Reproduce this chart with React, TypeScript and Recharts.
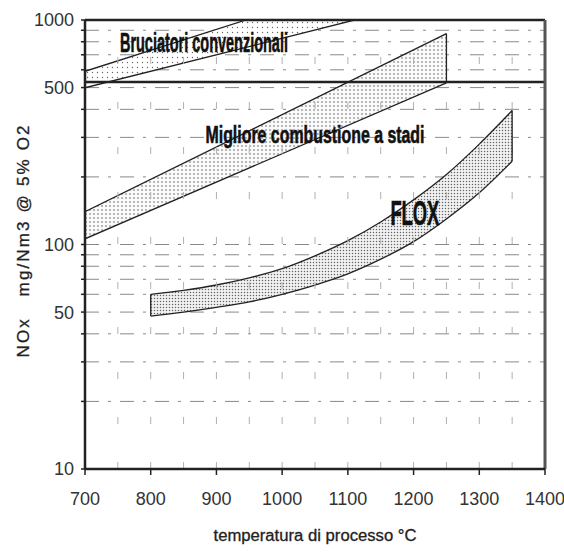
import React from 'react';
import {
  ComposedChart,
  Area,
  XAxis,
  YAxis,
  CartesianGrid,
  ReferenceLine,
  ReferenceDot,
  Label,
} from 'recharts';

// ---- Data -------------------------------------------------------------
const xTicks = [700, 800, 900, 1000, 1100, 1200, 1300, 1400];
const yTicks = [10, 20, 30, 40, 50, 60, 70, 80, 90, 100, 200, 300, 400, 500, 600, 700, 800, 900, 1000];
const yTickLabels = [10, 50, 100, 500, 1000];
const gridX = [750, 800, 850, 900, 950, 1000, 1050, 1100, 1150, 1200, 1250, 1300, 1350];

// Bruciatori convenzionali
const brucT = [700, 945, 1110];
const brucLo = [499, 755, 1000];
const brucHi = [591, 1000, 1000];

// Migliore combustione a stadi
const migT = [700, 1250];
const migLo = [106, 525];
const migHi = [140, 870];

// FLOX
const floxT = [800, 850, 900, 950, 1000, 1050, 1100, 1150, 1200, 1250, 1300, 1350];
const floxLo = [48, 50, 52.5, 55.5, 60, 66, 74, 86, 103, 130, 170, 235];
const floxHi = [60, 62.5, 66, 71, 78, 89, 104, 126, 158, 205, 280, 395];

const boxFloor = 530;

const bandNames = ['Bruciatori convenzionali', 'Migliore combustione a stadi', 'FLOX'];
const xTitle = 'temperatura di processo °C';
const yTitle = 'NOx   mg/Nm3 @ 5% O2';

// ---- Build table -------------------------------------------------------
const allT = Array.from(new Set([...brucT, ...migT, ...floxT])).sort((a, b) => a - b);
const pick = (ts: number[], lo: number[], hi: number[], t: number) => {
  const i = ts.indexOf(t);
  return i < 0 ? [null, null] : [lo[i], hi[i]];
};
const data = allT.map((t) => ({
  t,
  b: pick(brucT, brucLo, brucHi, t),
  m: pick(migT, migLo, migHi, t),
  f: pick(floxT, floxLo, floxHi, t),
}));

const narrow = "'Liberation Sans Narrow', 'Arial Narrow', 'Liberation Sans', Arial, sans-serif";

const YTick = (props: any) => {
  const { x, y, payload } = props;
  if (!yTickLabels.includes(payload.value)) return <g />;
  return (
    <text x={x} y={y} dy="0.36em" textAnchor="end" fontSize={18} fontFamily={narrow} fill="#333">
      {payload.value}
    </text>
  );
};

const XTick = (props: any) => {
  const { x, y, payload } = props;
  return (
    <text x={x} y={y} dy="0.71em" textAnchor="middle" fontSize={18} fontFamily={narrow} fill="#333">
      {payload.value}
    </text>
  );
};

const last = (a: number[]) => a[a.length - 1];

export default function App() {
  const labels = [
    { text: bandNames[0], t: 881, v: 790, fs: 28, w: 168 },
    { text: bandNames[1], t: 1050, v: 306, fs: 23, w: 219 },
    { text: bandNames[2], t: 1202, v: 139, fs: 35, w: 49 },
  ];
  return (
    <div style={{ position: 'absolute', left: 0, top: 0, width: 564, height: 552, background: '#fff' }}>
      <ComposedChart
        width={564}
        height={552}
        data={data}
        margin={{ top: 20, right: 19, left: 15, bottom: 43 }}
      >
        <defs>
          <pattern id="dotsB" width="5" height="5" patternUnits="userSpaceOnUse">
            <rect width="5" height="5" fill="#fff" />
            <circle cx="2.5" cy="2.5" r="0.7" fill="#666" />
          </pattern>
          <pattern id="dotsM" width="4" height="4" patternUnits="userSpaceOnUse">
            <rect width="4" height="4" fill="#fafafa" />
            <circle cx="2" cy="2" r="0.75" fill="#555" />
          </pattern>
          <pattern id="dotsF" width="3" height="3" patternUnits="userSpaceOnUse">
            <rect width="3" height="3" fill="#f2f2f2" />
            <circle cx="1.5" cy="1.5" r="0.75" fill="#666" />
          </pattern>
        </defs>
        <CartesianGrid vertical={false} stroke="#8a8a8a" strokeDasharray="14 9 3 9" strokeWidth={1} />
        {gridX.map((gx) => (
          <ReferenceLine key={gx} x={gx} stroke="#b0b0b0" strokeDasharray="7 38" strokeWidth={1} />
        ))}
        <XAxis
          dataKey="t"
          type="number"
          domain={[700, 1400]}
          ticks={xTicks}
          allowDataOverflow
          height={40}
          tickSize={6}
          tickMargin={17}
          tick={<XTick />}
          axisLine={{ stroke: '#222', strokeWidth: 2.5 }}
          tickLine={{ stroke: '#222', strokeWidth: 1.5 }}
        >
          <Label
            content={(p: any) => {
              const vb = p.viewBox || { x: 85, y: 469, width: 460, height: 40 };
              return (
                <text
                  x={vb.x + vb.width / 2}
                  y={vb.y + 72}
                  textAnchor="middle"
                  fontSize={16}
                  fontFamily={narrow}
                  fill="#222"
                  stroke="#222"
                  strokeWidth={0.3}
                  textLength={203}
                  lengthAdjust="spacingAndGlyphs"
                >
                  {xTitle}
                </text>
              );
            }}
          />
        </XAxis>
        <YAxis
          type="number"
          scale="log"
          domain={[10, 1000]}
          ticks={yTicks}
          allowDataOverflow
          width={70}
          tickSize={4}
          tickMargin={7}
          tick={<YTick />}
          interval={0}
          axisLine={{ stroke: '#222', strokeWidth: 2.5 }}
          tickLine={{ stroke: '#222', strokeWidth: 1.5 }}
        >
          <Label
            content={(p: any) => {
              const vb = p.viewBox || { x: 15, y: 20, width: 70, height: 449 };
              const cx = vb.x + 8;
              const cy = vb.y + vb.height / 2 - 3;
              return (
                <text
                  x={cx}
                  y={cy}
                  transform={`rotate(-90 ${cx} ${cy})`}
                  textAnchor="middle"
                  dominantBaseline="central"
                  fontSize={17}
                  fontFamily={narrow}
                  fill="#222"
                  stroke="#222"
                  strokeWidth={0.3}
                  style={{ whiteSpace: 'pre' }}
                  textLength={232}
                  lengthAdjust="spacing"
                >
                  {yTitle}
                </text>
              );
            }}
          />
        </YAxis>

        <Area
          dataKey="b"
          type="linear"
          connectNulls
          stroke="#222"
          strokeWidth={1.3}
          fill="url(#dotsB)"
          fillOpacity={1}
          isAnimationActive={false}
          dot={false}
          activeDot={false}
        />
        <Area
          dataKey="m"
          type="linear"
          connectNulls
          stroke="#222"
          strokeWidth={1.3}
          fill="url(#dotsM)"
          fillOpacity={1}
          isAnimationActive={false}
          dot={false}
          activeDot={false}
        />
        <Area
          dataKey="f"
          type="monotone"
          connectNulls
          stroke="#222"
          strokeWidth={1.3}
          fill="url(#dotsF)"
          fillOpacity={1}
          isAnimationActive={false}
          dot={false}
          activeDot={false}
        />

        <ReferenceLine
          segment={[{ x: last(migT), y: last(migLo) }, { x: last(migT), y: last(migHi) }]}
          stroke="#222"
          strokeWidth={1.3}
        />
        <ReferenceLine
          segment={[{ x: floxT[0], y: floxLo[0] }, { x: floxT[0], y: floxHi[0] }]}
          stroke="#222"
          strokeWidth={1.3}
        />
        <ReferenceLine
          segment={[{ x: last(floxT), y: last(floxLo) }, { x: last(floxT), y: last(floxHi) }]}
          stroke="#222"
          strokeWidth={1.3}
        />

        <ReferenceLine y={boxFloor} stroke="#222" strokeWidth={2.5} />
        <ReferenceLine y={1000} stroke="#222" strokeWidth={2.5} />
        <ReferenceLine x={1400} stroke="#555" strokeWidth={3} />

        {labels.map((l) => (
          <ReferenceDot
            key={l.text}
            x={l.t}
            y={l.v}
            r={0}
            shape={(p: any) => (
              <text
                x={p.cx}
                y={p.cy}
                textAnchor="middle"
                dominantBaseline="central"
                fontSize={l.fs}
                fontWeight="bold"
                fontFamily={narrow}
                fill="#111"
                stroke="#111"
                strokeWidth={0.6}
                textLength={l.w}
                lengthAdjust="spacingAndGlyphs"
              >
                {l.text}
              </text>
            )}
          />
        ))}
      </ComposedChart>
    </div>
  );
}
